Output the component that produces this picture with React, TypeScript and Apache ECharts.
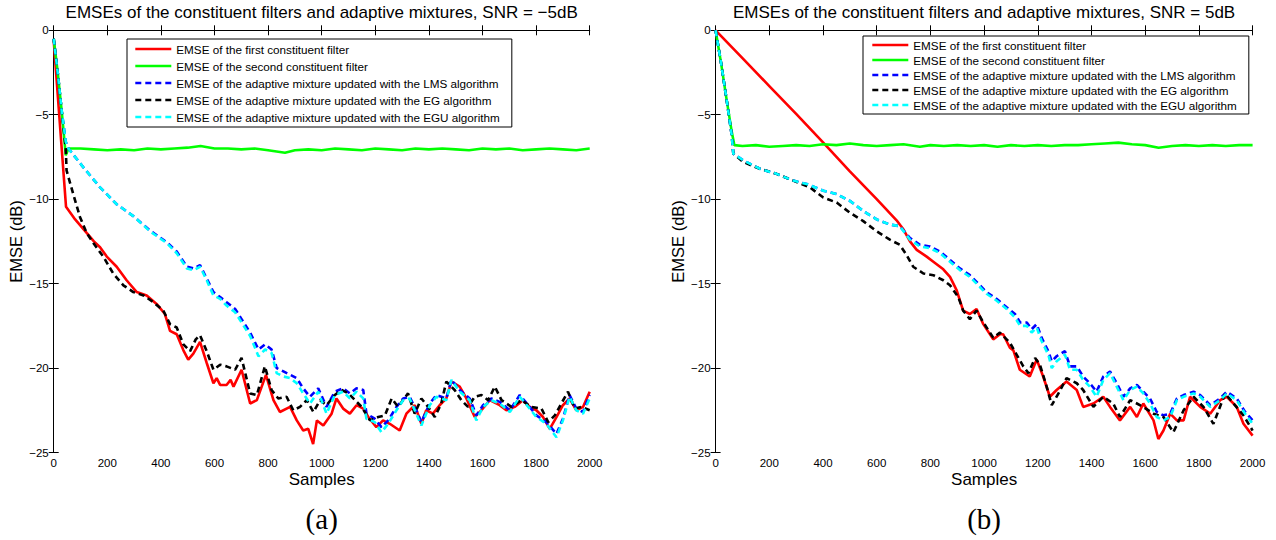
import React, { useEffect, useRef } from "react";
import * as echarts from "echarts";

const FONT = "'Liberation Sans', Arial, Helvetica, sans-serif";

const seriesNames = [
  "EMSE of the first constituent filter",
  "EMSE of the second constituent filter",
  "EMSE of the adaptive mixture updated with the LMS algorithm",
  "EMSE of the adaptive mixture updated with the EG algorithm",
  "EMSE of the adaptive mixture updated with the EGU algorithm",
];
const seriesColors = ["#ff0000", "#00ff00", "#0000ff", "#000000", "#00ffff"];
const seriesDashed = [false, false, true, true, true];

const titles = [
  "EMSEs of the constituent filters and adaptive mixtures, SNR = \u22125dB",
  "EMSEs of the constituent filters and adaptive mixtures, SNR = 5dB",
];
const captions = ["(a)", "(b)"];
const xName = "Samples";
const yName = "EMSE (dB)";

// ---- Panel (a), SNR = -5 dB ----
const leftRed = [
  [0, -0.6], [46, -10.45], [80, -11.2], [123, -12.0], [150, -12.5], [173, -12.85], [198, -13.4], [235, -14.0],
  [272, -14.8], [310, -15.5], [347, -15.7], [384, -16.2], [415, -16.8], [434, -17.8], [459, -18.0], [484, -18.95],
  [502, -19.5], [521, -19.15], [546, -18.45], [571, -19.7], [596, -20.9], [608, -20.6], [621, -21.0], [645, -21.0],
  [660, -20.7], [671, -21.1], [701, -20.1], [733, -22.1], [758, -21.9], [792, -20.4], [820, -21.9], [844, -22.6],
  [882, -22.3], [907, -23.1], [931, -23.7], [950, -23.6], [968, -24.5], [982, -23.1], [1006, -23.4], [1037, -22.7],
  [1055, -21.8], [1080, -22.4], [1105, -22.7], [1130, -22.2], [1155, -22.4], [1174, -22.9], [1204, -23.5], [1229, -23.1],
  [1254, -23.3], [1291, -23.7], [1316, -22.7], [1347, -22.2], [1372, -23.3], [1390, -22.5], [1415, -22.7], [1440, -22.2],
  [1465, -21.8], [1484, -20.8], [1515, -21.1], [1540, -21.8], [1571, -22.9], [1596, -22.5], [1627, -21.9], [1664, -22.2],
  [1689, -22.5], [1720, -22.3], [1751, -21.9], [1776, -22.3], [1801, -22.5], [1826, -22.9], [1851, -23.6], [1876, -22.9],
  [1900, -22.2], [1925, -21.8], [1950, -22.5], [1975, -22.3], [2000, -21.4],
];
const leftGreen = [
  [0, -0.5], [15, -2.5], [30, -4.8], [45, -7.4], [55, -7.0], [100, -7.0], [150, -7.05], [200, -7.1], [250, -7.05],
  [300, -7.1], [350, -7.0], [400, -7.05], [450, -7.0], [500, -6.95], [548, -6.85], [600, -7.0], [650, -7.0], [700, -7.05],
  [750, -7.0], [800, -7.1], [863, -7.25], [900, -7.1], [950, -7.05], [1000, -7.1], [1050, -7.0], [1100, -7.05],
  [1150, -7.1], [1200, -7.0], [1250, -7.05], [1300, -7.1], [1350, -7.0], [1400, -7.05], [1450, -7.0], [1500, -7.05],
  [1550, -7.1], [1600, -7.0], [1650, -7.05], [1700, -7.0], [1750, -7.1], [1800, -7.05], [1850, -7.0], [1900, -7.05],
  [1950, -7.1], [2000, -7.0],
];
const leftBlue = [
  [0, -0.5], [15, -2.5], [30, -4.8], [45, -6.6], [55, -7.0], [110, -8.1], [173, -9.3], [235, -10.3], [297, -11.0],
  [359, -11.85], [422, -12.55], [459, -13.1], [497, -14.0], [522, -14.1], [546, -13.9], [571, -14.7], [596, -15.5],
  [621, -15.8], [645, -16.1], [677, -16.5], [701, -17.1], [733, -17.9], [764, -18.9], [789, -18.6], [813, -18.9],
  [832, -20.0], [857, -20.2], [882, -20.4], [907, -20.6], [931, -21.2], [956, -21.7], [987, -21.2], [1018, -22.3],
  [1049, -21.4], [1080, -21.2], [1105, -21.5], [1130, -21.2], [1155, -21.3], [1167, -22.7], [1198, -23.0], [1223, -23.5],
  [1248, -23.1], [1279, -22.3], [1304, -21.8], [1328, -21.7], [1353, -22.5], [1372, -23.2], [1403, -22.1], [1428, -21.6],
  [1465, -21.8], [1484, -20.7], [1515, -21.3], [1552, -21.8], [1577, -22.8], [1602, -22.2], [1633, -21.8], [1664, -22.0],
  [1702, -22.5], [1739, -21.6], [1776, -22.3], [1801, -22.8], [1838, -23.2], [1876, -23.9], [1900, -23.0], [1925, -21.6],
  [1950, -22.4], [1975, -22.6], [2000, -21.6],
];
const leftBlack = [
  [0, -0.5], [15, -2.5], [30, -4.8], [45, -7.0], [48, -8.3], [73, -9.7], [98, -11.05], [123, -12.0], [148, -12.6],
  [185, -13.4], [222, -14.4], [260, -15.1], [297, -15.5], [335, -15.7], [372, -16.1], [409, -16.6], [434, -17.4],
  [459, -17.6], [484, -18.6], [509, -19.0], [530, -18.3], [546, -18.06], [571, -19.0], [596, -20.1], [621, -19.8],
  [645, -19.9], [677, -20.1], [701, -19.4], [733, -21.5], [758, -21.6], [788, -19.9], [813, -21.3], [838, -21.8],
  [869, -21.7], [894, -22.5], [919, -22.3], [944, -21.9], [969, -22.6], [994, -21.9], [1018, -22.2], [1049, -21.6],
  [1074, -21.3], [1100, -21.5], [1149, -22.3], [1180, -23.1], [1211, -22.9], [1236, -22.8], [1261, -21.8], [1285, -22.3],
  [1322, -21.5], [1347, -22.7], [1372, -21.8], [1397, -22.3], [1422, -22.9], [1446, -22.1], [1465, -20.8], [1496, -21.3],
  [1521, -21.9], [1546, -22.3], [1571, -21.7], [1596, -21.6], [1621, -21.9], [1646, -21.1], [1671, -21.9], [1708, -22.3],
  [1745, -21.9], [1782, -22.3], [1820, -22.4], [1845, -23.2], [1870, -22.8], [1894, -22.1], [1919, -21.4], [1944, -22.4],
  [1969, -22.3], [2000, -22.5],
];
const leftCyan = [
  [0, -0.5], [15, -2.5], [30, -4.8], [45, -6.6], [55, -7.0], [110, -8.1], [173, -9.3], [235, -10.3], [297, -11.0],
  [359, -11.9], [422, -12.6], [459, -13.2], [497, -14.1], [522, -14.2], [546, -14.0], [571, -14.8], [596, -15.7],
  [621, -15.9], [645, -16.3], [677, -16.7], [701, -17.3], [733, -18.1], [764, -19.3], [789, -18.9], [813, -19.1],
  [832, -20.3], [857, -20.5], [882, -20.6], [907, -20.9], [931, -21.5], [956, -22.1], [987, -21.4], [1018, -22.7],
  [1049, -21.6], [1080, -21.4], [1105, -21.8], [1130, -21.4], [1155, -21.8], [1167, -23.0], [1198, -23.2], [1223, -23.8],
  [1248, -23.3], [1279, -22.5], [1304, -21.9], [1328, -21.8], [1353, -22.7], [1372, -23.4], [1403, -22.2], [1428, -21.7],
  [1465, -21.9], [1484, -20.7], [1515, -21.4], [1552, -21.9], [1577, -23.1], [1602, -22.3], [1633, -21.9], [1664, -22.1],
  [1702, -22.6], [1739, -21.7], [1776, -22.4], [1801, -22.9], [1838, -23.3], [1876, -24.1], [1900, -23.1], [1925, -21.7],
  [1950, -22.5], [1975, -22.7], [2000, -21.8],
];

// ---- Panel (b), SNR = 5 dB ----
const rightRed = [
  [0, 0], [100, -1.65], [200, -3.3], [300, -4.95], [401, -6.65], [500, -8.35], [600, -10.0], [674, -11.25], [700, -11.8],
  [724, -12.5], [749, -13.0], [786, -13.4], [811, -13.7], [848, -14.15], [873, -14.6], [898, -15.4], [922, -16.6],
  [947, -16.8], [972, -16.5], [997, -17.4], [1034, -18.3], [1059, -18.0], [1071, -18.0], [1096, -18.8], [1109, -18.95],
  [1133, -20.1], [1170, -20.5], [1196, -19.5], [1220, -20.5], [1245, -21.7], [1270, -21.3], [1307, -20.8], [1345, -21.3],
  [1369, -22.3], [1407, -22.1], [1444, -21.7], [1469, -22.3], [1506, -23.1], [1544, -22.3], [1569, -22.9], [1593, -22.1],
  [1631, -23.1], [1649, -24.2], [1668, -23.7], [1693, -22.7], [1718, -23.1], [1743, -23.1], [1767, -21.7], [1805, -22.3],
  [1842, -22.7], [1879, -21.9], [1904, -21.7], [1941, -22.3], [1966, -23.3], [2000, -24.0],
];
const rightGreen = [
  [0, 0], [20, -1.9], [40, -4.0], [60, -6.0], [70, -6.8], [100, -6.85], [150, -6.8], [200, -6.9], [250, -6.85],
  [300, -6.8], [350, -6.85], [400, -6.75], [450, -6.8], [500, -6.7], [550, -6.8], [600, -6.85], [650, -6.8], [700, -6.75],
  [761, -6.9], [800, -6.8], [850, -6.85], [900, -6.8], [950, -6.85], [1000, -6.8], [1050, -6.9], [1100, -6.8],
  [1150, -6.85], [1200, -6.8], [1250, -6.85], [1300, -6.8], [1350, -6.8], [1400, -6.75], [1450, -6.7], [1500, -6.65],
  [1550, -6.75], [1600, -6.8], [1650, -6.95], [1700, -6.85], [1750, -6.8], [1800, -6.85], [1850, -6.8], [1900, -6.85],
  [1950, -6.8], [2000, -6.8],
];
const rightBlue = [
  [0, 0], [20, -1.9], [40, -4.0], [60, -6.2], [66, -7.3], [103, -7.7], [165, -8.2], [227, -8.5], [289, -8.9],
  [339, -9.1], [401, -9.5], [451, -9.7], [500, -10.1], [550, -10.7], [600, -11.2], [649, -11.5], [686, -11.6],
  [724, -12.3], [761, -12.7], [798, -12.8], [836, -13.1], [873, -13.6], [910, -14.1], [947, -14.5], [972, -14.9],
  [1009, -15.5], [1046, -15.9], [1084, -16.4], [1115, -16.8], [1134, -17.3], [1159, -17.3], [1177, -17.7], [1196, -17.4],
  [1214, -18.2], [1239, -19.0], [1252, -19.6], [1270, -19.3], [1301, -19.0], [1320, -19.9], [1345, -19.9], [1369, -20.5],
  [1394, -20.9], [1419, -21.4], [1444, -20.5], [1469, -20.2], [1494, -20.9], [1519, -21.7], [1544, -21.2], [1569, -21.0],
  [1593, -21.4], [1618, -21.8], [1643, -22.6], [1668, -22.8], [1693, -22.7], [1718, -21.8], [1743, -21.6], [1780, -21.4],
  [1805, -21.6], [1842, -22.2], [1879, -21.8], [1904, -21.4], [1941, -21.8], [1972, -22.6], [2000, -23.1],
];
const rightBlack = [
  [0, 0], [20, -1.9], [40, -4.0], [60, -6.2], [66, -7.3], [103, -7.8], [165, -8.2], [227, -8.5], [289, -8.9],
  [351, -9.3], [401, -9.9], [451, -10.2], [500, -10.8], [550, -11.3], [600, -11.9], [649, -12.4], [686, -12.7],
  [711, -13.3], [736, -14.0], [774, -14.4], [811, -14.5], [848, -14.8], [873, -15.1], [904, -15.8], [922, -16.6],
  [947, -17.1], [972, -16.6], [997, -17.3], [1034, -18.2], [1059, -17.9], [1096, -18.5], [1121, -19.2], [1146, -19.9],
  [1165, -20.3], [1190, -19.4], [1208, -19.8], [1233, -21.1], [1252, -22.2], [1277, -21.5], [1307, -20.6], [1345, -20.9],
  [1369, -21.3], [1407, -22.3], [1444, -21.7], [1481, -22.1], [1506, -22.9], [1544, -21.9], [1569, -22.1], [1593, -22.3],
  [1631, -22.7], [1668, -22.9], [1705, -23.8], [1743, -22.5], [1780, -21.7], [1817, -22.3], [1854, -23.3], [1898, -21.5],
  [1929, -22.1], [1966, -22.8], [2000, -23.7],
];
const rightCyan = [
  [0, 0], [20, -1.9], [40, -4.0], [60, -6.2], [66, -7.3], [103, -7.7], [165, -8.2], [227, -8.5], [289, -8.9],
  [339, -9.1], [401, -9.5], [451, -9.7], [500, -10.1], [550, -10.7], [600, -11.2], [649, -11.5], [686, -11.6],
  [724, -12.4], [761, -12.8], [798, -12.9], [836, -13.2], [873, -13.7], [910, -14.2], [947, -14.6], [972, -15.0],
  [1009, -15.6], [1046, -16.0], [1084, -16.5], [1115, -17.0], [1134, -17.5], [1159, -17.5], [1177, -17.9], [1196, -17.6],
  [1214, -18.4], [1239, -19.2], [1252, -20.0], [1270, -19.6], [1301, -19.2], [1320, -20.1], [1345, -20.1], [1369, -20.7],
  [1394, -21.1], [1419, -21.7], [1444, -20.7], [1469, -20.3], [1494, -21.1], [1519, -21.9], [1544, -21.3], [1569, -21.1],
  [1593, -21.5], [1618, -22.1], [1643, -22.9], [1668, -23.1], [1693, -22.9], [1718, -21.9], [1743, -21.7], [1780, -21.5],
  [1805, -21.7], [1842, -22.3], [1879, -21.9], [1904, -21.5], [1941, -21.9], [1972, -22.7], [2000, -23.3],
];

const panelData = [
  [leftRed, leftGreen, leftBlue, leftBlack, leftCyan],
  [rightRed, rightGreen, rightBlue, rightBlack, rightCyan],
];

const X_MIN = 0, X_MAX = 2000, X_STEP = 200;
const Y_MIN = -25, Y_MAX = 0, Y_STEP = 5;

const grids = [
  { left: 53.7, top: 30.3, width: 536, height: 422.2 },
  { left: 715.6, top: 30.3, width: 537, height: 422.2 },
];

const legends = [
  { left: 127, top: 39, itemGap: 5.0, padding: [4, 12, 4, 7] },
  { left: 863, top: 36, itemGap: 3.0, padding: [3, 12, 3, 8] },
];

const fmtY = (v: number) => (v < 0 ? "\u2212" + Math.abs(v) : String(v));
const fmtX = (v: number) => String(v);

export default function App() {
  const ref = useRef<HTMLDivElement>(null);
  useEffect(() => {
    if (!ref.current) return;
    const chart = echarts.init(ref.current, null, { renderer: "svg" });
    const axisBase = {
      axisLine: { show: true, lineStyle: { color: "#000", width: 1 } },
      axisTick: { show: true, inside: true, length: 5, lineStyle: { color: "#000", width: 1 } },
      splitLine: { show: false },
    };
    const xAxis: any[] = [];
    const yAxis: any[] = [];
    grids.forEach((g, i) => {
      xAxis.push({
        ...axisBase, type: "value", gridIndex: i, min: X_MIN, max: X_MAX, interval: X_STEP, position: "bottom",
        axisLabel: { color: "#000", fontSize: 11.5, fontFamily: FONT, margin: 4, formatter: fmtX, showMinLabel: true, showMaxLabel: true },
      });
      xAxis.push({
        ...axisBase, type: "value", gridIndex: i, min: X_MIN, max: X_MAX, interval: X_STEP, position: "top",
        axisLabel: { show: false },
      });
      yAxis.push({
        ...axisBase, type: "value", gridIndex: i, min: Y_MIN, max: Y_MAX, interval: Y_STEP, position: "left",
        axisLabel: { color: "#000", fontSize: 11.5, fontFamily: FONT, margin: 5, formatter: fmtY, showMinLabel: true, showMaxLabel: true },
      });
      yAxis.push({
        ...axisBase, type: "value", gridIndex: i, min: Y_MIN, max: Y_MAX, interval: Y_STEP, position: "right",
        axisLabel: { show: false },
      });
    });
    const series: any[] = [];
    panelData.forEach((arr, p) => {
      arr.forEach((d, k) => {
        series.push({
          type: "line",
          name: seriesNames[k],
          xAxisIndex: p * 2,
          yAxisIndex: p * 2,
          data: d,
          symbol: "none",
          showSymbol: false,
          clip: true,
          z: 2 + k,
          itemStyle: { color: seriesColors[k] },
          lineStyle: {
            color: seriesColors[k],
            width: 2.6,
            type: seriesDashed[k] ? [6, 4] : "solid",
          },
        });
      });
    });
    const graphic: any[] = [];
    grids.forEach((g, i) => {
      const cx = g.left + g.width / 2;
      graphic.push({
        type: "text", x: cx, y: 12,
        style: { text: titles[i], fill: "#000", font: `17px ${FONT}`, textAlign: "center", textVerticalAlign: "middle" },
      });
      graphic.push({
        type: "text", x: cx, y: 479,
        style: { text: xName, fill: "#000", font: `17px ${FONT}`, textAlign: "center", textVerticalAlign: "middle" },
      });
      graphic.push({
        type: "text", x: g.left - 37.5, y: g.top + g.height / 2, rotation: Math.PI / 2,
        style: { text: yName, fill: "#000", font: `16.5px ${FONT}`, textAlign: "center", textVerticalAlign: "middle" },
      });
      graphic.push({
        type: "text", x: cx, y: 519,
        style: { text: captions[i], fill: "#000", font: `29px 'Liberation Serif', 'DejaVu Serif', serif`, textAlign: "center", textVerticalAlign: "middle" },
      });
    });
    chart.setOption({
      animation: false,
      backgroundColor: "#fff",
      grid: grids.map((g) => ({ ...g, containLabel: false })),
      xAxis,
      yAxis,
      legend: legends.map((l) => ({
        show: true,
        orient: "vertical",
        left: l.left,
        top: l.top,
        itemWidth: 36,
        itemHeight: 12,
        itemGap: l.itemGap,
        padding: l.padding,
        borderColor: "#000",
        borderWidth: 1,
        borderRadius: 0,
        backgroundColor: "#fff",
        selectedMode: false,
        textStyle: { color: "#000", fontSize: 11.7, fontFamily: FONT },
        itemStyle: { color: "transparent", opacity: 0, borderWidth: 0 },
        lineStyle: { width: 2.6 },
        data: seriesNames,
        z: 10,
      })),
      series,
      graphic,
    });
    return () => chart.dispose();
  }, []);
  return <div ref={ref} style={{ position: "absolute", left: 0, top: 0, width: 1276, height: 540 }} />;
}
